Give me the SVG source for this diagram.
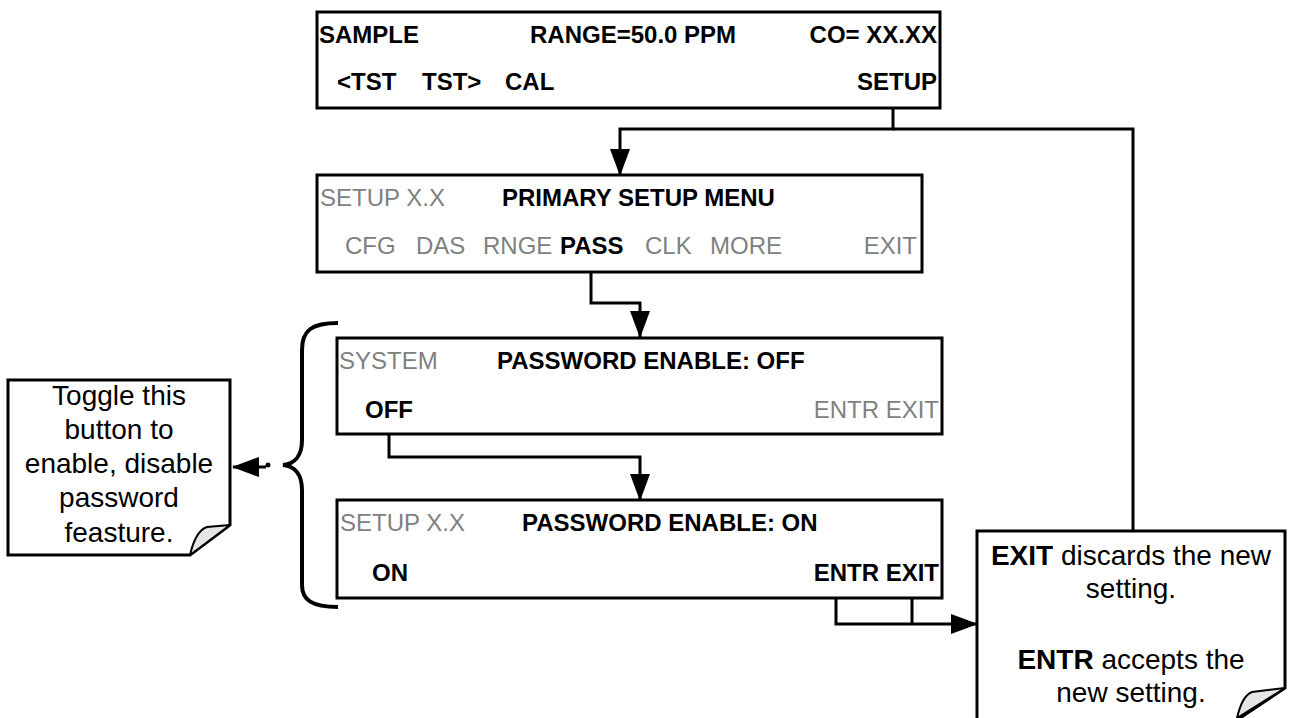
<svg xmlns="http://www.w3.org/2000/svg" width="1289" height="718" viewBox="0 0 1289 718">
<defs>
<style>
.box{fill:#fff;stroke:#000;stroke-width:3}
.t{font-family:"Liberation Sans",Arial,sans-serif;font-size:24px;font-weight:bold;fill:#000}
.g{font-family:"Liberation Sans",Arial,sans-serif;font-size:24px;font-weight:normal;fill:#808080}
.n{font-family:"Liberation Sans",Arial,sans-serif;font-size:28px;fill:#000;text-anchor:middle}
.c{fill:none;stroke:#000;stroke-width:3}
.fold{fill:#e6e6e6;stroke:#000;stroke-width:2;stroke-linejoin:round}
.note{fill:#fff;stroke:#000;stroke-width:3}
</style>
<marker id="ah" markerWidth="27" markerHeight="20" refX="26" refY="10" orient="auto" markerUnits="userSpaceOnUse">
<path d="M0,0 L27,10 L0,20 Z" fill="#000"/>
</marker>
</defs>
<g id="connectors">
<path class="c" d="M893,108 V129 H620 V175" marker-end="url(#ah)"/>
<path class="c" d="M893,129 H1133 V531"/>
<path class="c" d="M591,262 V303 H640 V337" marker-end="url(#ah)"/>
<path class="c" d="M389,423 V457 H640 V500" marker-end="url(#ah)"/>
<path class="c" d="M836,588 V624 H977" marker-end="url(#ah)"/>
<path class="c" d="M912,588 V624"/>
<path class="c" d="M266,467 H233" marker-end="url(#ah)"/>
<circle cx="268" cy="465" r="2.5" fill="#000"/>
</g>
<g id="brace">
<path d="M338,323 C312,323 302,330 302,350 V440 C302,455 295,464 283,465 C295,466 302,475 302,490 V585 C302,600 312,607 338,607" fill="none" stroke="#000" stroke-width="4"/>
</g>
<g id="screen-sample">
<rect class="box" x="317" y="12" width="623" height="96"/>
<text class="t" x="319" y="43">SAMPLE</text>
<text class="t" x="530" y="43">RANGE=50.0 PPM</text>
<text class="t" x="937" y="43" text-anchor="end">CO= XX.XX</text>
<text class="t" x="337" y="90">&lt;TST</text>
<text class="t" x="422" y="90">TST&gt;</text>
<text class="t" x="505" y="90">CAL</text>
<text class="t" x="937" y="90" text-anchor="end">SETUP</text>
</g>
<g id="screen-primary">
<rect class="box" x="317" y="175" width="605" height="97"/>
<text class="g" x="320" y="206">SETUP X.X</text>
<text class="t" x="502" y="206">PRIMARY SETUP MENU</text>
<text class="g" x="345" y="254">CFG</text>
<text class="g" x="416" y="254">DAS</text>
<text class="g" x="483" y="254">RNGE</text>
<text class="t" x="560" y="254">PASS</text>
<text class="g" x="645" y="254">CLK</text>
<text class="g" x="710" y="254">MORE</text>
<text class="g" x="917" y="254" text-anchor="end">EXIT</text>
</g>
<g id="screen-off">
<rect class="box" x="337" y="338" width="605" height="96"/>
<text class="g" x="339" y="369">SYSTEM</text>
<text class="t" x="497" y="369">PASSWORD ENABLE: OFF</text>
<text class="t" x="365" y="418">OFF</text>
<text class="g" x="939" y="418" text-anchor="end">ENTR EXIT</text>
</g>
<g id="screen-on">
<rect class="box" x="337" y="500" width="605" height="98"/>
<text class="g" x="340" y="531">SETUP X.X</text>
<text class="t" x="522" y="531">PASSWORD ENABLE: ON</text>
<text class="t" x="372" y="581">ON</text>
<text class="t" x="939" y="581" text-anchor="end">ENTR EXIT</text>
</g>
<g id="note-toggle">
<path class="note" d="M8,380 H230 V525 L190,555 H8 Z"/>
<path class="fold" d="M190,555 C193,542 198,530 207,527 L230,525 Z"/>
<text class="n" x="119" y="405">Toggle this</text>
<text class="n" x="119" y="439">button to</text>
<text class="n" x="119" y="473">enable, disable</text>
<text class="n" x="119" y="507">password</text>
<text class="n" x="119" y="542">feasture.</text>
</g>
<g id="note-exit">
<path class="note" d="M977,531 H1285 V688 L1237,720 H977 Z"/>
<path class="fold" d="M1237,718 C1240,705 1244,695 1252,692 L1285,688 Z"/>
<text class="n" x="1131" y="565"><tspan font-weight="bold">EXIT</tspan> discards the new</text>
<text class="n" x="1131" y="598">setting.</text>
<text class="n" x="1131" y="669"><tspan font-weight="bold">ENTR</tspan> accepts the</text>
<text class="n" x="1131" y="702">new setting.</text>
</g>
</svg>
